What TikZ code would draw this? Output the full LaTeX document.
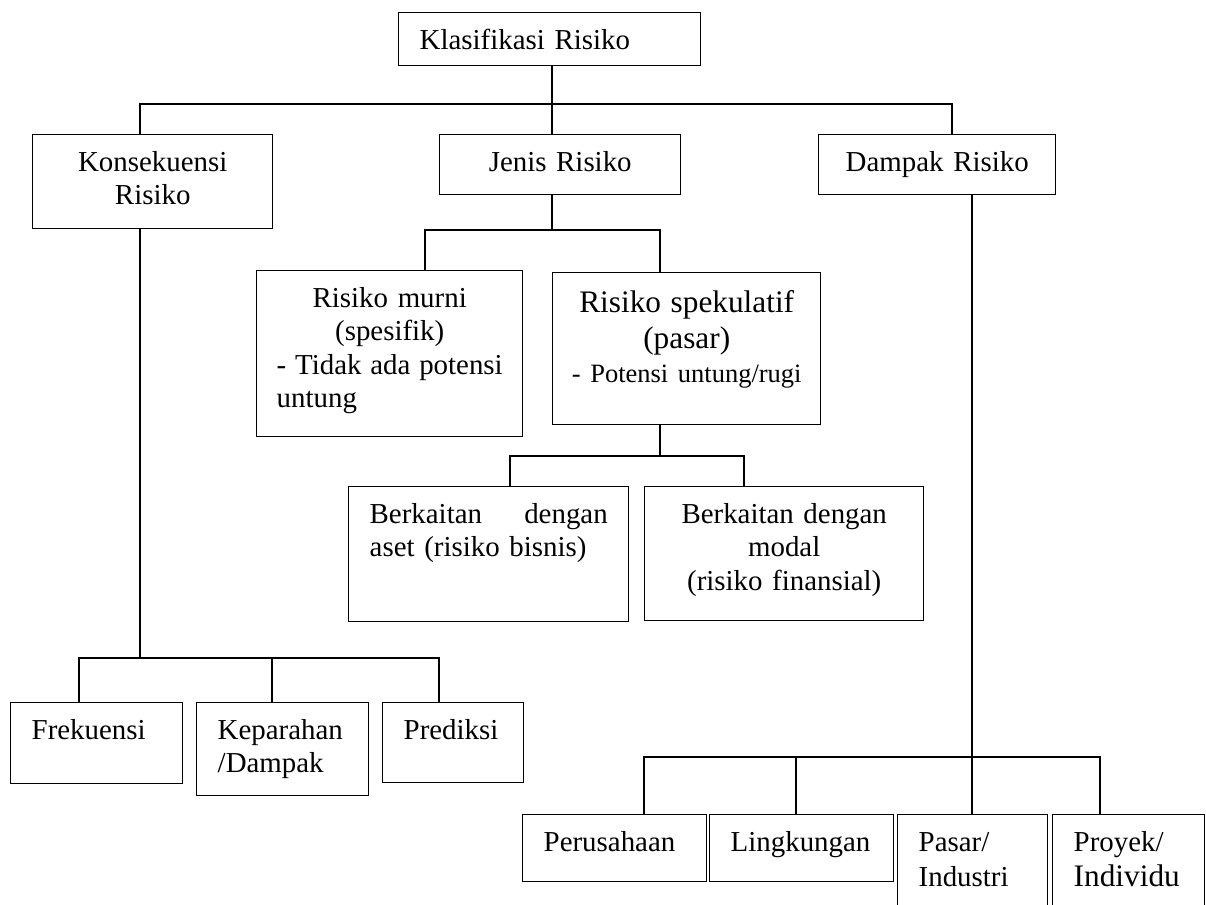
\documentclass[tikz,border=0pt]{standalone}
\usepackage{fontspec}
\setmainfont{Liberation Serif}
\usetikzlibrary{positioning}
\newdimen\px \px=0.4153pt

\begin{document}
\begin{tikzpicture}[x=0.4153pt,y=-0.4153pt,line width=0.6pt,
  box/.style={draw, anchor=north west, inner ysep=0pt, text height=37\px,
    font=\fontsize{12}{13.8}\selectfont},
  mid/.style={box, align=center, inner xsep=8\px},
  pad/.style={box, align=left, inner xsep=21\px}]
\useasboundingbox (0,0) rectangle (1206,904);

% top levels
\node[pad, text width=260\px, text depth=16\px] (root) at (398,12) {Klasifikasi Risiko};
\node[mid, text width=224\px, text depth=57\px] (konseq) at (32,134) {Konsekuensi\\Risiko};
\node[mid, text width=225\px, text depth=23\px] (jenis) at (439,134) {Jenis Risiko};
\node[mid, text width=221\px, text depth=23\px] (dampak) at (818,134) {Dampak Risiko};

% jenis risiko
\node[box, align=left, inner xsep=20\px, text width=226\px, text depth=129\px] (murni) at (256,270)
  {{\centering Risiko murni\\(spesifik)\par}\hbox to 226\px{-\hfill Tidak\hfill ada\hfill potensi}untung};
\node[mid, text width=252\px, text height=40\px, text depth=112\px] (spek) at (552,272)
  {\fontsize{13}{15}\selectfont Risiko spekulatif\\(pasar)\par
   \fontsize{11}{12.65}\selectfont - Potensi untung/rugi};
\node[pad, text width=238\px, text depth=98\px] (aset) at (348,486)
  {\hbox to 238\px{Berkaitan\hfill dengan}\\aset (risiko bisnis)};
\node[mid, text width=263\px, text depth=97\px] (modal) at (644,486)
  {Berkaitan dengan\\modal\\(risiko finansial)};

% konsekuensi risiko
\node[pad, text width=130\px, text depth=44\px] (frek) at (10,702) {Frekuensi};
\node[pad, text width=130\px, text depth=56\px] (kep) at (196,702) {Keparahan\\/Dampak};
\node[pad, text width=99\px, text depth=43\px] (pred) at (382,702) {Prediksi};

% dampak risiko
\node[pad, text width=142\px, text depth=30\px] (perus) at (522,814) {Perusahaan};
\node[pad, text width=142\px, text depth=30\px] (ling) at (709,814) {Lingkungan};
\node[pad, text width=108\px, text depth=59\px, font=\fontsize{12}{14.5}\selectfont] (pasar) at (897,814)
  {Pasar/\\Industri};
\node[pad, text width=110\px, text depth=59\px, font=\fontsize{12}{14.5}\selectfont] (proyek) at (1052,814)
  {Proyek/\\{\fontsize{13}{14.5}\selectfont Individu}};

\coordinate (t0) at (552,104);
\coordinate (j0) at (552,230);
\coordinate (s0) at (660,456);
\coordinate (k0) at (140,658);
\coordinate (d0) at (972,757);

\draw (root.south -| t0) -- (jenis.north -| t0);
\draw (konseq.north -| 140,0) |- (t0) -| (dampak.north -| 952,0);
\draw (jenis.south -| j0) -- (j0);
\draw (murni.north -| 425,0) |- (j0) -| (spek.north -| s0);
\draw (spek.south -| s0) -- (s0);
\draw (aset.north -| 510,0) |- (s0) -| (modal.north -| 744,0);
\draw (konseq.south -| k0) -- (k0);
\draw (frek.north -| 79,0) |- (k0) -| (pred.north -| 439,0);
\draw (kep.north -| 272,0) -- (k0 -| 272,0);
\draw (dampak.south -| d0) -- (d0);
\draw (perus.north -| 644,0) |- (d0) -| (proyek.north -| 1100,0);
\draw (ling.north -| 796,0) -- (d0 -| 796,0);
\draw (pasar.north -| d0) -- (d0);
; %end path
\end{tikzpicture}
\end{document}
